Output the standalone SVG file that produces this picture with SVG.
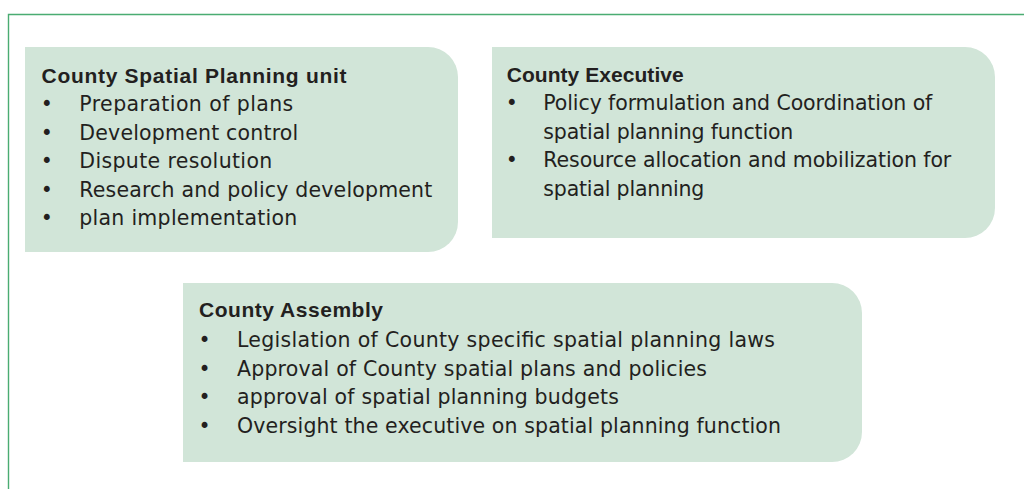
<svg xmlns="http://www.w3.org/2000/svg" width="1024" height="489" viewBox="0 0 1024 489">
<style>
.box{fill:#d1e5d8}
.frame{fill:none;stroke:#4aac72;stroke-width:1.4}
.t{font-family:"Liberation Sans",Arial,sans-serif;font-weight:bold;font-size:21px;fill:#231f20}
.b{font-family:"DejaVu Sans",sans-serif;font-size:20.5px;fill:#231f20}
.d{font-family:"DejaVu Sans",sans-serif;font-size:20.5px;fill:#231f20;text-anchor:middle}
</style>
<rect width="1024" height="489" fill="#ffffff"/>
<path class="frame" d="M8.5,489 V14.5 H1024"/>
<g id="unit">
<path class="box" d="M25,47 H428 A30,30 0 0 1 458,77 V222 A30,30 0 0 1 428,252 H25 Z"/>
<text class="t" x="41.5" y="82.5" textLength="305" lengthAdjust="spacing">County Spatial Planning unit</text>
<text class="d" x="46.7" y="111">•</text><text class="b" x="79.3" y="111" textLength="214" lengthAdjust="spacing">Preparation of plans</text>
<text class="d" x="46.7" y="139.5">•</text><text class="b" x="79.3" y="139.5" textLength="219" lengthAdjust="spacing">Development control</text>
<text class="d" x="46.7" y="168">•</text><text class="b" x="79.3" y="168" textLength="193" lengthAdjust="spacing">Dispute resolution</text>
<text class="d" x="46.7" y="196.5">•</text><text class="b" x="79.3" y="196.5" textLength="353" lengthAdjust="spacing">Research and policy development</text>
<text class="d" x="46.7" y="225">•</text><text class="b" x="79.3" y="225" textLength="218" lengthAdjust="spacing">plan implementation</text>
</g>
<g id="executive">
<path class="box" d="M492,47 H965 A30,30 0 0 1 995,77 V208 A30,30 0 0 1 965,238 H492 Z"/>
<text class="t" x="506.7" y="82" textLength="177" lengthAdjust="spacing">County Executive</text>
<text class="d" x="511.7" y="110">•</text><text class="b" x="543.3" y="110" textLength="389" lengthAdjust="spacing">Policy formulation and Coordination of</text>
<text class="b" x="543.3" y="138.5" textLength="250" lengthAdjust="spacing">spatial planning function</text>
<text class="d" x="511.7" y="167">•</text><text class="b" x="543.3" y="167" textLength="408" lengthAdjust="spacing">Resource allocation and mobilization for</text>
<text class="b" x="543.3" y="195.5" textLength="161" lengthAdjust="spacing">spatial planning</text>
</g>
<g id="assembly">
<path class="box" d="M183,283 H832 A30,30 0 0 1 862,313 V432 A30,30 0 0 1 832,462 H183 Z"/>
<text class="t" x="199" y="317" textLength="184" lengthAdjust="spacing">County Assembly</text>
<text class="d" x="204.5" y="347">•</text><text class="b" x="237" y="347" textLength="538" lengthAdjust="spacing">Legislation of County specific spatial planning laws</text>
<text class="d" x="204.5" y="375.5">•</text><text class="b" x="237" y="375.5" textLength="470" lengthAdjust="spacing">Approval of County spatial plans and policies</text>
<text class="d" x="204.5" y="404">•</text><text class="b" x="237" y="404" textLength="382" lengthAdjust="spacing">approval of spatial planning budgets</text>
<text class="d" x="204.5" y="432.5">•</text><text class="b" x="237" y="432.5" textLength="544" lengthAdjust="spacing">Oversight the executive on spatial planning function</text>
</g>
<g id="connectors"></g>
</svg>
